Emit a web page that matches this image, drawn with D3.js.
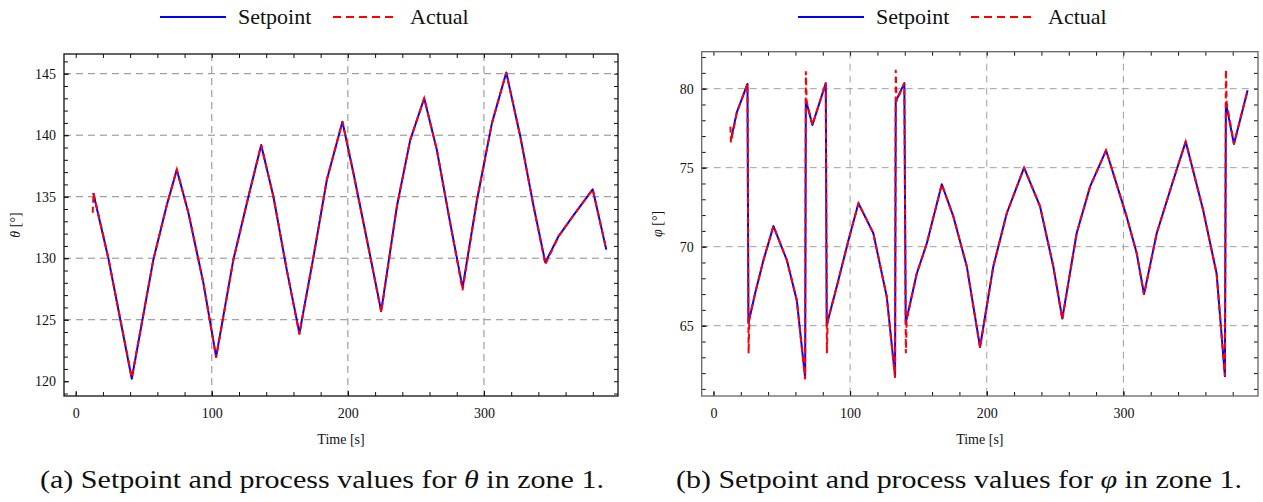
<!DOCTYPE html>
<html>
<head>
<meta charset="utf-8">
<script src="https://cdn.jsdelivr.net/npm/d3@7"></script>
<style>
  html, body { margin: 0; padding: 0; background: #fff; }
  svg { display: block; }
  svg text { font-family: "Liberation Serif", Tinos, "Times New Roman", "DejaVu Serif", serif !important; fill: #111; }
</style>
</head>
<body>
<svg id="fig" width="1263" height="502"></svg>
<script>
// ---- zone 1, polar angle theta ----
const thetaTime = [12.9, 24.0, 41.2, 57.1, 66.9, 74.3, 82.8, 93.8, 103.2, 115.9, 126.9, 136.3,
  145.3, 155.1, 164.4, 174.7, 184.6, 196.0, 204.1, 214.0, 224.5, 236.0, 245.8, 256.1,
  265.4, 275.2, 284.3, 294.9, 305.9, 316.4, 326.7, 336.5, 345.1, 354.9, 365.9, 379.9, 389.9];
const thetaSetpoint = [135.3, 130.0, 120.2, 129.9, 134.3, 137.2, 133.7, 128.0, 122.0, 129.9, 135.0, 139.2,
  135.0, 129.05, 123.9, 130.1, 136.4, 141.1, 136.9, 131.5, 125.7, 134.2, 139.6, 143.0,
  138.8, 132.85, 127.6, 134.75, 141.0, 145.1, 139.9, 134.2, 129.65, 131.8, 133.5, 135.6, 130.7];
const thetaActualTime = [12.5, 13.1, 24.0, 41.2, 57.1, 66.9, 74.3, 82.8, 93.8, 103.2, 115.9, 126.9, 136.3,
  145.3, 155.1, 164.4, 174.7, 184.6, 196.0, 204.1, 214.0, 224.5, 236.0, 245.8, 256.1,
  265.4, 275.2, 284.3, 294.9, 305.9, 316.4, 326.7, 336.5, 345.1, 354.9, 365.9, 379.9, 389.9];
const thetaActual = [133.7, 135.3, 130.0, 120.3, 129.9, 134.3, 137.2, 133.7, 128.0, 121.9, 129.9, 135.0, 139.2,
  135.0, 129.05, 123.8, 130.1, 136.4, 141.1, 136.9, 131.5, 125.6, 134.2, 139.6, 143.0,
  138.8, 132.85, 127.4, 134.75, 141.0, 145.1, 139.9, 134.2, 129.5, 131.8, 133.5, 135.6, 130.7];

// ---- zone 1, azimuth phi ----
const phiTime = [12.7, 17.1, 24.9, 25.6, 30.5, 36.6, 43.9, 53.7, 61.0, 67.1, 67.6, 72.4, 82.2,
  82.9, 90.3, 98.8, 106.1, 117.0, 126.8, 132.9, 133.4, 139.7, 140.7, 148.8, 156.1, 167.1,
  175.6, 185.4, 195.1, 204.8, 214.6, 227.3, 239.0, 248.7, 255.3, 265.8, 275.6, 287.3,
  302.4, 309.7, 315.1, 324.4, 336.5, 345.6, 358.4, 368.2, 374.3, 375.0, 380.9, 390.9];
const phiSetpoint = [76.75, 78.5, 80.3, 65.15, 67.05, 69.15, 71.3, 69.15, 66.6, 61.7, 79.3, 77.7, 80.35,
  65.05, 67.5, 70.4, 72.75, 70.85, 66.85, 61.8, 79.2, 80.35, 65.15, 68.3, 70.2, 73.95,
  71.9, 68.75, 63.65, 68.75, 72.1, 75.0, 72.55, 68.75, 65.45, 70.85, 73.8, 76.1,
  71.9, 69.6, 67.0, 70.85, 74.2, 76.65, 72.3, 68.3, 61.8, 79.1, 76.5, 79.9];
const phiActualTime = [12.4, 12.8, 17.1, 24.9, 25.7, 26.3, 30.5, 36.6, 43.9, 53.7, 61.0, 67.1, 67.6, 68.2, 72.4, 82.2,
  83.0, 83.6, 90.3, 98.8, 106.1, 117.0, 126.8, 132.9, 133.4, 134.0, 139.7, 140.8, 141.4, 148.8, 156.1, 167.1,
  175.6, 185.4, 195.1, 204.8, 214.6, 227.3, 239.0, 248.7, 255.3, 265.8, 275.6, 287.3,
  302.4, 309.7, 315.1, 324.4, 336.5, 345.6, 358.4, 368.2, 374.3, 375.0, 375.6, 380.9, 390.9];
const phiActual = [77.6, 76.6, 78.5, 80.3, 63.25, 65.5, 67.05, 69.15, 71.3, 69.15, 66.6, 61.6, 81.1, 79.2, 77.7, 80.35,
  63.25, 65.3, 67.5, 70.4, 72.75, 70.85, 66.85, 61.7, 81.2, 79.2, 80.35, 63.25, 65.4, 68.3, 70.2, 73.95,
  71.9, 68.75, 63.6, 68.75, 72.1, 75.0, 72.55, 68.75, 65.4, 70.85, 73.8, 76.1,
  71.9, 69.6, 66.95, 70.85, 74.2, 76.65, 72.3, 68.3, 61.8, 81.2, 79.1, 76.5, 79.9];

// ---- axis ticks ----
const timeTicks = [0, 100, 200, 300];
const thetaTicks = [120, 125, 130, 135, 140, 145];
const phiTicks = [65, 70, 75, 80];
const legendLabels = ["Setpoint", "Actual"];

const SERIF = '"Liberation Serif", Tinos, "Times New Roman", "DejaVu Serif", serif';
const svg = d3.select("#fig");

function drawPanel(p) {
  const x = d3.scaleLinear().domain([-8.6, 398.5]).range([p.left, p.right]);
  const y = d3.scaleLinear().domain(p.yDomain).range([p.bottom, p.top]);
  const g = svg.append("g").attr("font-family", SERIF);

  const minorX = d3.range(0, 400, 20);
  const minorY = d3.range(Math.ceil(p.yDomain[0]), Math.floor(p.yDomain[1]) + 1, 1);

  // dashed grid at labelled ticks
  g.append("g").selectAll("line").data(timeTicks.filter(t => t > 0)).join("line")
    .attr("x1", d => x(d)).attr("x2", d => x(d))
    .attr("y1", p.top).attr("y2", p.bottom)
    .attr("stroke", p.gridColor).attr("stroke-width", 1).attr("stroke-dasharray", "7,5");
  g.append("g").selectAll("line").data(p.gridY).join("line")
    .attr("y1", d => y(d)).attr("y2", d => y(d))
    .attr("x1", p.left).attr("x2", p.right)
    .attr("stroke", p.gridColor).attr("stroke-width", 1).attr("stroke-dasharray", "7,5");

  // inward minor and major ticks on all four sides
  const tickStyle = sel => {
    sel.select(".domain").remove();
    sel.attr("font-family", SERIF);
    sel.selectAll("line").attr("stroke", "#111").attr("stroke-width", 1);
  };
  g.append("g").attr("transform", `translate(0,${p.bottom})`)
    .call(d3.axisBottom(x).tickValues(minorX).tickSize(-4).tickFormat("")).call(tickStyle);
  g.append("g").attr("transform", `translate(0,${p.top})`)
    .call(d3.axisTop(x).tickValues(minorX).tickSize(-4).tickFormat("")).call(tickStyle);
  g.append("g").attr("transform", `translate(${p.left},0)`)
    .call(d3.axisLeft(y).tickValues(minorY).tickSize(-4).tickFormat("")).call(tickStyle);
  g.append("g").attr("transform", `translate(${p.right},0)`)
    .call(d3.axisRight(y).tickValues(minorY).tickSize(-4).tickFormat("")).call(tickStyle);

  // tick labels
  const bx = g.append("g").attr("transform", `translate(0,${p.bottom})`)
    .call(d3.axisBottom(x).tickValues(timeTicks).tickSize(-5).tickPadding(12).tickFormat(d3.format("d")));
  bx.call(tickStyle);
  bx.selectAll("text").attr("font-size", 14).attr("fill", "#111");
  const ly = g.append("g").attr("transform", `translate(${p.left},0)`)
    .call(d3.axisLeft(y).tickValues(p.yTicks).tickSize(-5).tickPadding(8).tickFormat(d3.format("d")));
  ly.call(tickStyle);
  ly.selectAll("text").attr("font-size", 14).attr("fill", "#111");

  // series
  const line = d3.line().x(d => x(d[0])).y(d => y(d[1]));
  g.append("path").datum(d3.zip(p.setT, p.setV))
    .attr("d", line).attr("fill", "none").attr("stroke", "#0000ff")
    .attr("stroke-width", 2).attr("stroke-linejoin", "round");
  g.append("path").datum(d3.zip(p.actT, p.actV))
    .attr("d", line).attr("fill", "none").attr("stroke", "#ff0000")
    .attr("stroke-width", 2).attr("stroke-dasharray", "6,4");

  // frame
  g.append("rect").attr("x", p.left).attr("y", p.top)
    .attr("width", p.right - p.left).attr("height", p.bottom - p.top)
    .attr("fill", "none").attr("stroke", p.frameColor).attr("stroke-width", 1.3);

  // axis titles
  g.append("text").attr("x", (p.left + p.right) / 2).attr("y", 444)
    .attr("text-anchor", "middle").attr("font-size", 14).text("Time [s]");
  const yl = g.append("text").attr("transform", `translate(${p.ylabelX},${(p.top + p.bottom) / 2}) rotate(-90)`)
    .attr("text-anchor", "middle").attr("font-size", 14);
  yl.append("tspan").attr("font-style", "italic").text(p.symbol);
  yl.append("tspan").text(" [°]");

  // legend
  const lg = g.append("g").attr("transform", `translate(${p.legendX},17)`);
  lg.append("line").attr("x1", 0).attr("x2", 66).attr("y1", 0).attr("y2", 0)
    .attr("stroke", "#0000ff").attr("stroke-width", 2);
  lg.append("text").attr("x", 78).attr("y", 7).attr("font-size", 22).text(legendLabels[0]);
  lg.append("line").attr("x1", 173).attr("x2", 238).attr("y1", 0).attr("y2", 0)
    .attr("stroke", "#ff0000").attr("stroke-width", 2).attr("stroke-dasharray", "8,5");
  lg.append("text").attr("x", 250).attr("y", 7).attr("font-size", 22).text(legendLabels[1]);

  // caption
  const cap = g.append("text").attr("x", p.captionX).attr("y", 488)
    .attr("font-size", 26).attr("textLength", p.captionW).attr("lengthAdjust", "spacingAndGlyphs");
  cap.append("tspan").text(p.captionId + " Setpoint and process values for ");
  cap.append("tspan").attr("font-style", "italic").text(p.symbol);
  cap.append("tspan").text(" in zone 1.");
}

drawPanel({
  left: 64, right: 618, top: 54, bottom: 396,
  yDomain: [118.8, 146.6], yTicks: thetaTicks, gridY: thetaTicks.filter(t => t > 120),
  setT: thetaTime, setV: thetaSetpoint, actT: thetaActualTime, actV: thetaActual,
  symbol: "θ", ylabelX: 20, legendX: 160, frameColor: "#111", gridColor: "#8a8a8a",
  captionId: "(a)", captionX: 40, captionW: 564
});
drawPanel({
  left: 701.7, right: 1258, top: 51.7, bottom: 396,
  yDomain: [60.55, 82.34], yTicks: phiTicks, gridY: phiTicks,
  setT: phiTime, setV: phiSetpoint, actT: phiActualTime, actV: phiActual,
  symbol: "φ", ylabelX: 662, legendX: 798, frameColor: "#666", gridColor: "#a0a0a0",
  captionId: "(b)", captionX: 676, captionW: 566
});
</script>
</body>
</html>
